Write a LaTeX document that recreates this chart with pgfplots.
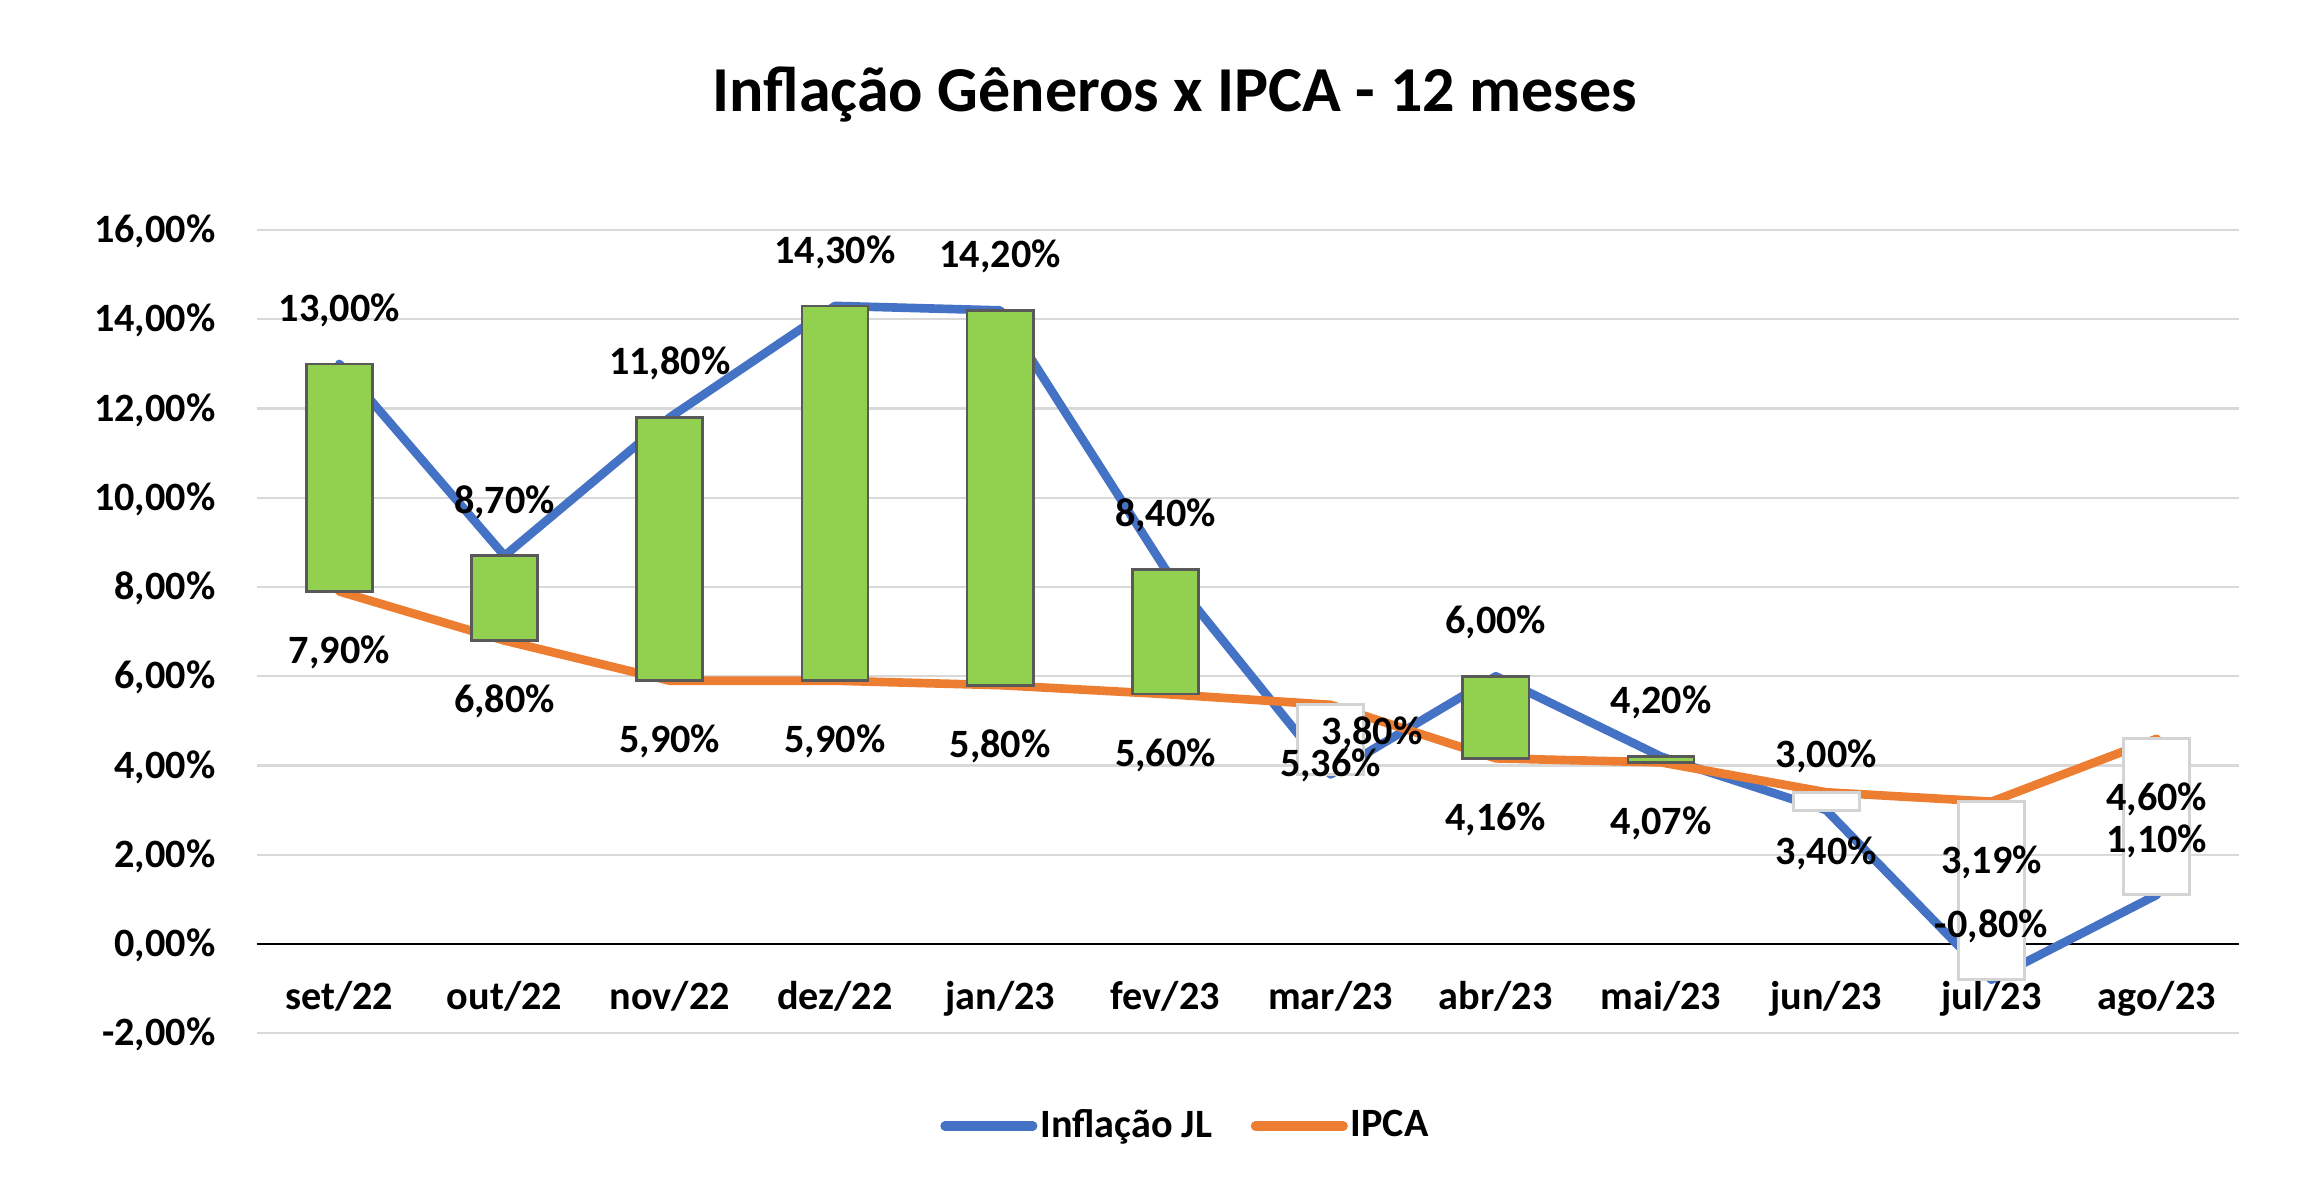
\documentclass[border=0pt]{standalone}
\usepackage{fontspec}
\setmainfont{Carlito}
\usepackage{pgfplots}
\usepackage{pgfplotstable}
\pgfplotsset{compat=1.18}
\usepgfplotslibrary{statistics}
\definecolor{jlblue}{HTML}{4472C4}
\definecolor{ipcaorange}{HTML}{ED7D31}
\definecolor{upgreen}{HTML}{92D050}
\definecolor{gridgray}{HTML}{D9D9D9}
\definecolor{bargray}{HTML}{595959}
\definecolor{downgray}{HTML}{D4D4D4}
\newcommand\lbl{\bfseries\fontsize{13.5}{16}\selectfont}

\pgfplotstableread{
x jl ipca jllab ipcalab dx ly
0 13.00 7.90 13,00 7,90 0 14.3
1 8.70 6.80 8,70 6,80 0 14.3
2 11.80 5.90 11,80 5,90 0 14.3
3 14.30 5.90 14,30 5,90 0 14.3
4 14.20 5.80 14,20 5,80 0 14.3
5 8.40 5.60 8,40 5,60 0 14.3
6 3.80 5.36 3,80 5,36 13.9 10.2
7 6.00 4.16 6,00 4,16 0 14.3
8 4.20 4.07 4,20 4,07 0 14.3
9 3.00 3.40 3,00 3,40 0 14.3
10 -0.80 3.19 -0,80 3,19 0 14.3
11 1.10 4.60 1,10 4,60 0 14.3
}\data

\pgfplotsset{
  upbar/.style={
    boxplot/draw direction=y,
    boxplot/every box/.style={draw=bargray, fill=upgreen, line width=0.9pt},
    boxplot/every median/.style={draw=bargray, line width=0.9pt},
    boxplot/every whisker/.style={draw=none}},
  downbar/.style={
    boxplot/draw direction=y,
    boxplot/every box/.style={draw=downgray, fill=white, line width=1pt},
    boxplot/every median/.style={draw=downgray, line width=1pt},
    boxplot/every whisker/.style={draw=none}},
}
\newcommand{\udbar}[4]{%
  \addplot[forget plot, #4, boxplot prepared={draw position=#1,
    lower whisker=#2, lower quartile=#2, median=#2,
    upper quartile=#3, upper whisker=#3, box extend=0.4, whisker extend=0}]
    coordinates {};
}

\begin{document}
\begin{tikzpicture}
\useasboundingbox (0,0) rectangle (780pt,396.2pt);
\node[anchor=base, font=\bfseries\fontsize{21.5}{25}\selectfont] at (394.5pt,358.7pt)
  {Inflação Gêneros x IPCA - 12 meses};
\begin{axis}[
  at={(86.2pt,49.26pt)}, anchor=south west,
  scale only axis, width=665.7pt, height=269.7pt,
  xmin=-0.5, xmax=11.5, ymin=-2, ymax=16,
  clip=false,
  xtick={0,1,2,3,4,5,6,7,8,9,10,11},
  xticklabels={set/22,out/22,nov/22,dez/22,jan/23,fev/23,mar/23,abr/23,mai/23,jun/23,jul/23,ago/23},
  ytick={-2,0,2,4,6,8,10,12,14,16},
  yticklabels={{-2,00\%},{0,00\%},{2,00\%},{4,00\%},{6,00\%},{8,00\%},{10,00\%},{12,00\%},{14,00\%},{16,00\%}},
  tick label style={font=\lbl},
  yticklabel style={anchor=base east, inner sep=0pt, xshift=-13.7pt, yshift=-4.27pt},
  xticklabel style={anchor=base, inner sep=0pt, yshift=8pt},
  axis line style={draw=none},
  tick style={draw=none},
  major tick length=0pt,
  ymajorgrids,
  grid style={gridgray, line width=0.8pt},
  extra y ticks={0},
  extra y tick labels={},
  extra y tick style={grid=major, grid style={black, line width=1pt}},
  legend style={at={(0.4687,-0.1154)}, anchor=center, draw=none, fill=none,
    legend columns=2, font=\lbl, inner sep=0pt,
    nodes={inner sep=1pt},
    /tikz/every even column/.append style={column sep=12pt}},
  legend image code/.code={\draw[#1, line width=3.1pt, line cap=round] (0pt,0pt) -- (29.5pt,0pt);},
]
\addplot[jlblue, line width=2.9pt, line join=round, line cap=round, mark=none]
  table[x=x, y=jl]{\data};
\addlegendentry{Inflação JL}
\addplot[ipcaorange, line width=2.9pt, line join=round, line cap=round, mark=none]
  table[x=x, y=ipca]{\data};
\addlegendentry{IPCA}

\udbar{0}{7.90}{13.00}{upbar}
\udbar{1}{6.80}{8.70}{upbar}
\udbar{2}{5.90}{11.80}{upbar}
\udbar{3}{5.90}{14.30}{upbar}
\udbar{4}{5.80}{14.20}{upbar}
\udbar{5}{5.60}{8.40}{upbar}
\udbar{6}{3.80}{5.36}{downbar}
\udbar{7}{4.16}{6.00}{upbar}
\udbar{8}{4.07}{4.20}{upbar}
\udbar{9}{3.00}{3.40}{downbar}
\udbar{10}{-0.80}{3.19}{downbar}
\udbar{11}{1.10}{4.60}{downbar}

\addplot[forget plot, draw=none, mark=none,
  nodes near coords={\pgfplotspointmeta\%}, point meta=explicit symbolic,
  visualization depends on={\thisrow{dx} \as \dxv},
  visualization depends on={\thisrow{ly} \as \lyv},
  every node near coord/.append style={anchor=base, inner sep=0pt, font=\lbl,
    xshift=\dxv pt, yshift=\lyv pt}]
  table[x=x, y=jl, meta=jllab]{\data};
\addplot[forget plot, draw=none, mark=none,
  nodes near coords={\pgfplotspointmeta\%}, point meta=explicit symbolic,
  every node near coord/.append style={anchor=base, inner sep=0pt, font=\lbl,
    yshift=-24.2pt}]
  table[x=x, y=ipca, meta=ipcalab]{\data};
\end{axis}
\end{tikzpicture}
\end{document}
